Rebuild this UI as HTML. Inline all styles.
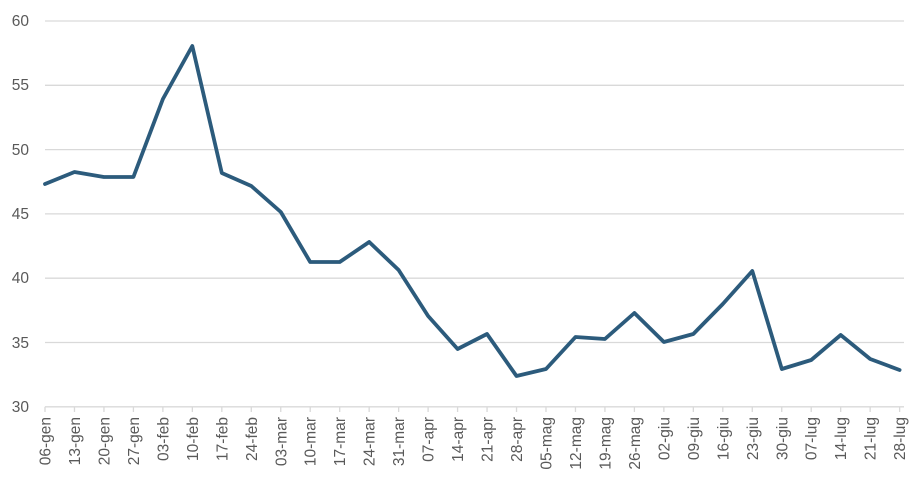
<!DOCTYPE html>
<html><head><meta charset="utf-8"><style>body{margin:0;background:#fff}svg{display:block}</style></head><body>
<svg width="924" height="484" xmlns="http://www.w3.org/2000/svg" font-family="Liberation Sans, sans-serif">
<g stroke="#d9d9d9" stroke-width="1.3">
<line x1="45" y1="21" x2="904" y2="21"/><line x1="45" y1="85.3" x2="904" y2="85.3"/><line x1="45" y1="149.6" x2="904" y2="149.6"/><line x1="45" y1="213.9" x2="904" y2="213.9"/><line x1="45" y1="278.2" x2="904" y2="278.2"/><line x1="45" y1="342.5" x2="904" y2="342.5"/><line x1="45" y1="406.8" x2="904" y2="406.8"/>
</g>
<g fill="#595959" font-size="15.5" text-anchor="end">
<text x="29" y="26">60</text><text x="29" y="90">55</text><text x="29" y="155">50</text><text x="29" y="219">45</text><text x="29" y="283">40</text><text x="29" y="348">35</text><text x="29" y="412">30</text>
</g>
<g id="ticks" stroke="#d9d9d9" stroke-width="1.3"></g>
<g id="labels" fill="#595959" font-size="15.5" text-anchor="end"></g>
<polyline id="ln" fill="none" stroke="#2c5b7c" stroke-width="3.8" stroke-linejoin="round" stroke-linecap="round" points=""/>
<script>
var L=["06-gen","13-gen","20-gen","27-gen","03-feb","10-feb","17-feb","24-feb","03-mar","10-mar","17-mar","24-mar","31-mar","07-apr","14-apr","21-apr","28-apr","05-mag","12-mag","19-mag","26-mag","02-giu","09-giu","16-giu","23-giu","30-giu","07-lug","14-lug","21-lug","28-lug"];
var Y=[184,172,177,177,99,46,173,186,212,262,262,242,270,316,349,334,376,369,337,339,313,342,334,304,271,369,360,335,359,370];
var t=document.getElementById("ticks"),lb=document.getElementById("labels"),p=[],ns="http://www.w3.org/2000/svg";
for(var i=0;i<30;i++){var x=45+29.47*i;p.push(x.toFixed(1)+","+Y[i]);
var l=document.createElementNS(ns,"line");l.setAttribute("x1",x);l.setAttribute("x2",x);l.setAttribute("y1",406.8);l.setAttribute("y2",412);t.appendChild(l);
var tx=document.createElementNS(ns,"text");tx.setAttribute("transform","translate("+(x+5.5)+",417) rotate(-90)");tx.textContent=L[i];lb.appendChild(tx);}
document.getElementById("ln").setAttribute("points",p.join(" "));
</script>
</svg>
</body></html>
